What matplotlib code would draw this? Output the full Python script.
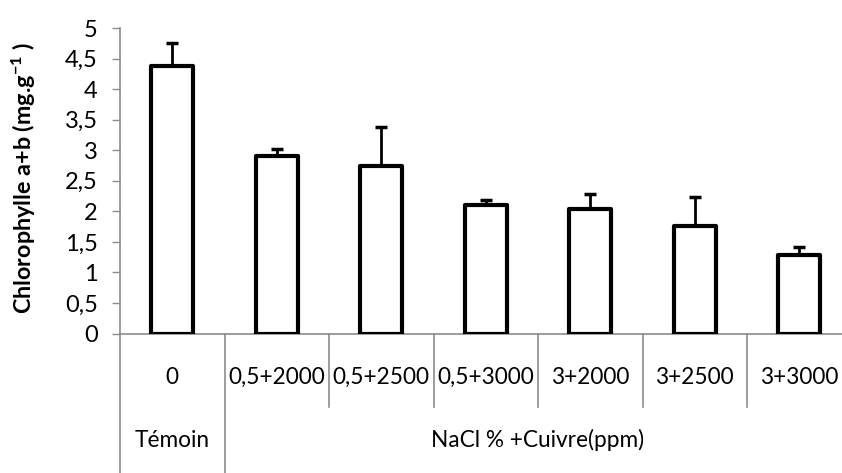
import matplotlib
matplotlib.use('Agg')
import matplotlib.pyplot as plt
import matplotlib.transforms as mtransforms
import numpy as np

# data
categories = ['0', '0,5+2000', '0,5+2500', '0,5+3000', '3+2000', '3+2500', '3+3000']
chloro = [4.38, 2.90, 2.74, 2.10, 2.04, 1.76, 1.29]
err_up = [0.37, 0.12, 0.64, 0.08, 0.24, 0.48, 0.13]
groups = ['Témoin', 'NaCl % +Cuivre(ppm)']
group_span = [(0, 0), (1, 6)]
yticks = [0, 0.5, 1, 1.5, 2, 2.5, 3, 3.5, 4, 4.5, 5]

plt.rcParams['font.family'] = ['Lato', 'DejaVu Sans']
plt.rcParams['mathtext.fontset'] = 'custom'
plt.rcParams['mathtext.rm'] = 'Lato'
plt.rcParams['mathtext.bf'] = 'Lato:bold'

axis_col = '#8c8c8c'
fs = 16.3

fig = plt.figure(figsize=(8.42, 4.73), dpi=100)
ax = fig.add_axes([120/842, 139.5/473, 1 - 120/842, 305.5/473])

x = np.arange(len(categories))
ax.bar(x, chloro, width=0.40, color='white', edgecolor='black', linewidth=3.0,
       joinstyle='round', zorder=3)
ax.errorbar(x, chloro, yerr=[np.zeros(len(x)), err_up], fmt='none', ecolor='black',
            elinewidth=2.0, capsize=4.5, capthick=2.5, zorder=2)

ax.set_xlim(-0.5, -0.5 + 722/104.5)
ax.set_ylim(0, 5)
ax.set_yticks(yticks)
ax.set_yticklabels([('%g' % v).replace('.', ',') for v in yticks], fontsize=17)
ax.tick_params(axis='y', direction='out', length=6, width=1, color=axis_col, pad=10)
ax.set_xticks([])

for s in ['top', 'right']:
    ax.spines[s].set_visible(False)
for s in ['left', 'bottom']:
    ax.spines[s].set_color(axis_col)
    ax.spines[s].set_linewidth(1.2)

ax.set_ylabel(r'Chlorophylle a+b (mg.g$\mathbf{^{-1}}$ )', fontsize=16.8, fontweight='bold')
ax.yaxis.set_label_coords(-82/722, 0.51)

# multi-level category axis
trans = mtransforms.blended_transform_factory(ax.transData, fig.transFigure)
y0 = 139.5/473
for i in range(len(categories) + 1):
    xb = i - 0.5
    long_line = xb in (-0.5, 0.5, len(categories) - 0.5)
    yb = 0 if long_line else (473 - 407)/473
    ax.plot([xb, xb], [y0, yb], color=axis_col, lw=1.2, transform=trans, clip_on=False)

for i, c in enumerate(categories):
    ax.text(i, (473 - 377)/473, c, transform=trans, ha='center', va='center', fontsize=fs)

for g, (a, b) in zip(groups, group_span):
    ax.text((a + b)/2, (473 - 440)/473, g, transform=trans, ha='center', va='center',
            fontsize=fs)

fig.savefig('out.png', dpi=100)
